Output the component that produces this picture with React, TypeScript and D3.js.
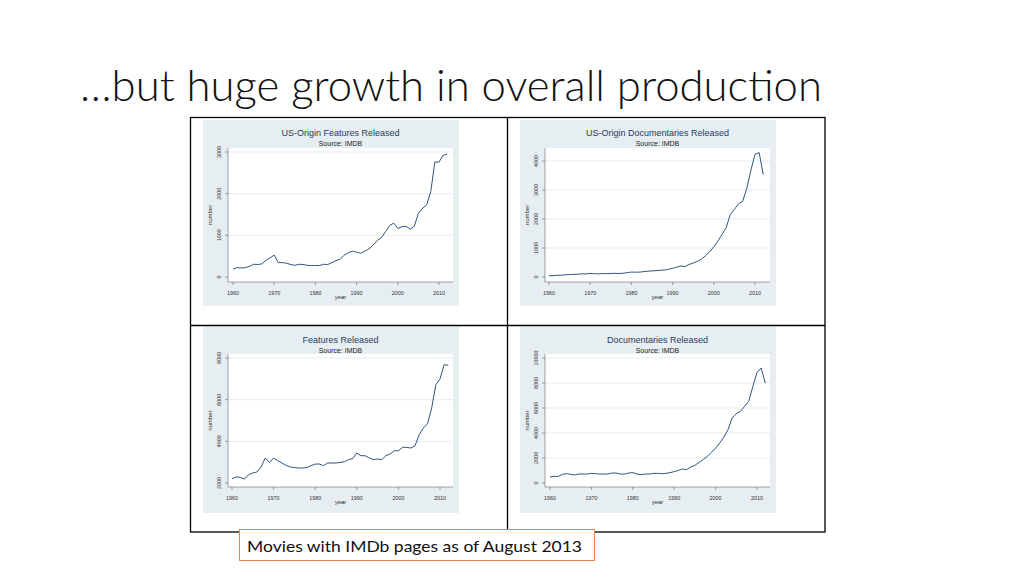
import React from "react";
import * as d3 from "d3";

// ---------- DATA ----------
const years = [
  1960, 1961, 1962, 1963, 1964, 1965, 1966, 1967, 1968, 1969,
  1970, 1971, 1972, 1973, 1974, 1975, 1976, 1977, 1978, 1979,
  1980, 1981, 1982, 1983, 1984, 1985, 1986, 1987, 1988, 1989,
  1990, 1991, 1992, 1993, 1994, 1995, 1996, 1997, 1998, 1999,
  2000, 2001, 2002, 2003, 2004, 2005, 2006, 2007, 2008, 2009,
  2010, 2011, 2012,
];

const usFeatures = [
  190, 225, 215, 225, 255, 305, 300, 315, 400, 460,
  525, 345, 345, 330, 300, 280, 305, 300, 280, 275,
  275, 275, 305, 300, 345, 395, 425, 525, 585, 620,
  595, 570, 620, 675, 765, 875, 940, 1085, 1230, 1295,
  1165, 1205, 1215, 1150, 1215, 1530, 1650, 1730, 2050, 2760,
  2760, 2920, 2950,
];

const usDocs = [
  40, 50, 60, 65, 75, 85, 90, 95, 110, 105,
  125, 115, 110, 120, 115, 120, 125, 120, 130, 150,
  170, 165, 170, 185, 200, 210, 220, 230, 240, 265,
  300, 340, 380, 355, 435, 480, 540, 610, 735, 870,
  1040, 1240, 1470, 1700, 2150, 2330, 2530, 2610, 3050, 3680,
  4230, 4290, 3530,
];

const features = [
  2210, 2290, 2270, 2190, 2400, 2480, 2530, 2770, 3200, 2990,
  3200, 3070, 2960, 2850, 2770, 2740, 2720, 2720, 2740, 2830,
  2910, 2910, 2830, 2960, 2960, 2960, 2990, 3020, 3120, 3170,
  3440, 3310, 3310, 3200, 3120, 3150, 3120, 3310, 3390, 3550,
  3550, 3710, 3710, 3680, 3790, 4320, 4640, 4850, 5600, 6720,
  6990, 7680, 7650,
];

const docs = [
  480, 530, 530, 690, 750, 690, 640, 720, 720, 720,
  770, 750, 720, 720, 720, 800, 800, 720, 720, 800,
  830, 720, 670, 720, 720, 770, 770, 750, 770, 830,
  910, 1010, 1120, 1070, 1280, 1410, 1650, 1870, 2130, 2450,
  2800, 3200, 3680, 4270, 5200, 5550, 5730, 6130, 6530, 7730,
  8850, 9200, 8000,
];

const xTicks = [1960, 1970, 1980, 1990, 2000, 2010];
const usFeaturesTicks = [0, 1000, 2000, 3000];
const usDocsTicks = [0, 1000, 2000, 3000, 4000];
const featuresTicks = [2000, 4000, 6000, 8000];
const docsTicks = [0, 2000, 4000, 6000, 8000, 10000];

const panelTitles = [
  "US-Origin Features Released",
  "US-Origin Documentaries Released",
  "Features Released",
  "Documentaries Released",
];
const subtitleText = "Source: IMDB";
const yTitle = "number";
const xTitle = "year";
const slideTitle = "\u2026but huge growth in overall production";
const captionText = "Movies with IMDb pages as of August 2013";

// ---------- STYLE / LAYOUT ----------
const BG = "#e7eef1";
const GRID = "#e3ebee";
const LINE = "#2d5680";
const TITLE_COL = "#2a3a60";
const AX = "#666";
const FONT = "'Liberation Sans', Arial, sans-serif";

type PanelLayout = {
  bg: [number, number, number, number];
  plot: [number, number, number, number];
  xRange: [number, number];
  yRange: [number, number];
  yDomain: [number, number];
  labelX: number;
  numberX: number;
};

const layouts: PanelLayout[] = [
  { bg: [203, 120, 256, 186], plot: [228, 148, 453, 282], xRange: [233, 439], yRange: [277, 152], yDomain: [0, 3000], labelX: 219, numberX: 210 },
  { bg: [520, 120, 256, 186], plot: [545, 148, 770, 282], xRange: [549, 755], yRange: [277, 161], yDomain: [0, 4000], labelX: 536, numberX: 527 },
  { bg: [203, 327, 256, 186], plot: [228, 354, 453, 487], xRange: [232, 440], yRange: [483, 358], yDomain: [2000, 8000], labelX: 219, numberX: 210 },
  { bg: [520, 327, 256, 186], plot: [545, 354, 770, 487], xRange: [550, 757], yRange: [483, 358], yDomain: [0, 10000], labelX: 536, numberX: 527 },
];

const seriesList = [usFeatures, usDocs, features, docs];
const tickList = [usFeaturesTicks, usDocsTicks, featuresTicks, docsTicks];

function Panel({ lay, title, values, yTicks }: { lay: PanelLayout; title: string; values: number[]; yTicks: number[] }) {
  const x = d3.scaleLinear().domain([xTicks[0], xTicks[xTicks.length - 1]]).range(lay.xRange);
  const y = d3.scaleLinear().domain(lay.yDomain).range(lay.yRange);
  const [px0, py0, px1, py1] = lay.plot;
  const cx = (px0 + px1) / 2;
  const cy = (py0 + py1) / 2;
  const line = d3
    .line<number>()
    .x((_, i) => x(years[i]))
    .y((d) => y(d));
  return (
    <g>
      <rect x={lay.bg[0]} y={lay.bg[1]} width={lay.bg[2]} height={lay.bg[3]} fill={BG} />
      <rect x={px0} y={py0} width={px1 - px0} height={py1 - py0} fill="#fff" />
      {yTicks.slice(1).map((t) => (
        <line key={"g" + t} x1={px0} x2={px1} y1={y(t)} y2={y(t)} stroke={GRID} strokeWidth={0.9} />
      ))}
      <text x={cx} y={lay.bg[1] + 16} textAnchor="middle" fontFamily={FONT} fontSize={9} fill={TITLE_COL}>
        {title}
      </text>
      <text x={cx} y={lay.bg[1] + 25.5} textAnchor="middle" fontFamily={FONT} fontSize={7} fill="#222">
        {subtitleText}
      </text>
      <line x1={px0} x2={px0} y1={py0} y2={py1} stroke={AX} strokeWidth={0.6} />
      <line x1={px0} x2={px1} y1={py1} y2={py1} stroke={AX} strokeWidth={0.6} />
      {yTicks.map((t) => (
        <g key={"y" + t}>
          <line x1={px0 - 3} x2={px0} y1={y(t)} y2={y(t)} stroke={AX} strokeWidth={0.6} />
          <text
            transform={`translate(${lay.labelX + 2},${y(t)}) rotate(-90)`}
            textAnchor="middle"
            fontFamily={FONT}
            fontSize={5.4}
            fill="#333"
          >
            {t}
          </text>
        </g>
      ))}
      {xTicks.map((t) => (
        <g key={"x" + t}>
          <line x1={x(t)} x2={x(t)} y1={py1} y2={py1 + 3} stroke={AX} strokeWidth={0.6} />
          <text x={x(t)} y={py1 + 12.5} textAnchor="middle" fontFamily={FONT} fontSize={5.4} fill="#333">
            {t}
          </text>
        </g>
      ))}
      <text
        transform={`translate(${lay.numberX + 2},${cy}) rotate(-90)`}
        textAnchor="middle"
        fontFamily={FONT}
        fontSize={6}
        fill="#333"
      >
        {yTitle}
      </text>
      <text x={cx} y={py1 + 16.5} textAnchor="middle" fontFamily={FONT} fontSize={6} fill="#333">
        {xTitle}
      </text>
      <path d={line(values) || ""} fill="none" stroke={LINE} strokeWidth={1} strokeLinejoin="round" />
    </g>
  );
}

export default function App() {
  return (
    <svg
      width={1024}
      height={576}
      viewBox="0 0 1024 576"
      style={{ position: "fixed", left: 0, top: 0, background: "#fff" }}
    >
      <rect x={0} y={0} width={1024} height={576} fill="#fff" />
      <text
        x={80}
        y={101}
        fontFamily="Lato, 'Open Sans', sans-serif"
        fontWeight={300}
        fontSize={44}
        fill="#111"
        textLength={742}
        lengthAdjust="spacingAndGlyphs"
      >
        {slideTitle}
      </text>
      <rect x={190.5} y={117.5} width={634.5} height={414.5} fill="none" stroke="#000" strokeWidth={1.3} />
      <line x1={507.5} x2={507.5} y1={117.5} y2={532} stroke="#000" strokeWidth={1.3} />
      <line x1={190.5} x2={825} y1={325.5} y2={325.5} stroke="#000" strokeWidth={1.3} />
      {layouts.map((lay, i) => (
        <Panel key={i} lay={lay} title={panelTitles[i]} values={seriesList[i]} yTicks={tickList[i]} />
      ))}
      <rect x={239.5} y={529.5} width={355} height={31} fill="#fff" stroke="#e8894a" strokeWidth={1} />
      <text
        x={247}
        y={552}
        fontFamily="Lato, 'Open Sans', sans-serif"
        fontSize={16}
        fill="#111"
        textLength={335}
        lengthAdjust="spacingAndGlyphs"
      >
        {captionText}
      </text>
    </svg>
  );
}
